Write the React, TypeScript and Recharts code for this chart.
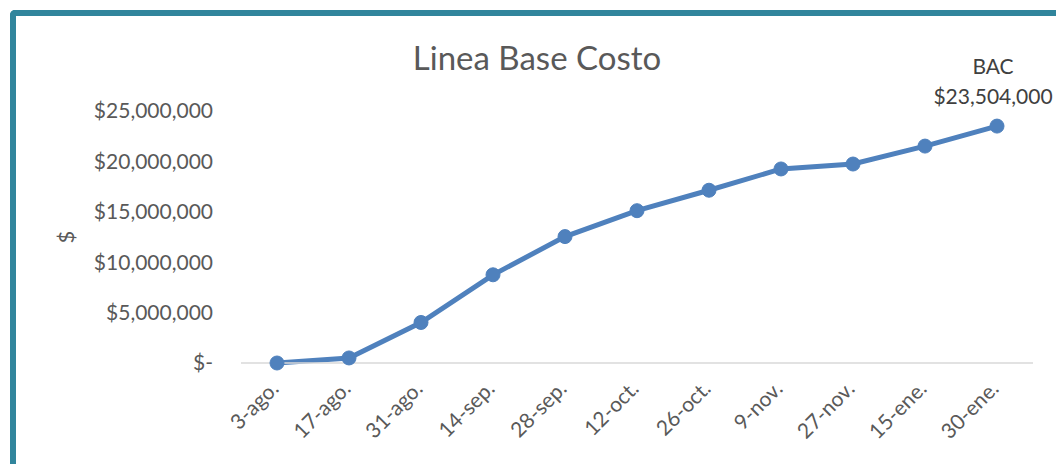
import React from 'react';
import { LineChart, Line, XAxis, YAxis } from 'recharts';

// fechas de corte y costo acumulado planeado
const fechas = ['3-ago.', '17-ago.', '31-ago.', '14-sep.', '28-sep.', '12-oct.', '26-oct.', '9-nov.', '27-nov.', '15-ene.', '30-ene.'];
const costoAcumulado = [0, 500000, 4020000, 8750000, 12540000, 15110000, 17140000, 19250000, 19740000, 21520000, 23504000];
const yTicks = [0, 5000000, 10000000, 15000000, 20000000, 25000000];

const data = fechas.map((f, i) => ({ fecha: f, costo: costoAcumulado[i] }));

const FONT = 'Lato, "Noto Sans", sans-serif';
const GRAY = '#595959';
const BLUE = '#4F81BD';

const fmtMoney = (v: number) => (v === 0 ? '$-' : '$' + v.toLocaleString('en-US'));

const DateTick = ({ x, y, payload }: any) => (
  <text
    x={x + 3}
    y={y + 19}
    transform={`rotate(-45, ${x + 3}, ${y + 19})`}
    textAnchor="end"
    fill={GRAY}
    fontSize={21}
    fontFamily={FONT}
  >
    {payload.value}
  </text>
);

// etiqueta BAC solo en el ultimo punto
const BacLabel = ({ x, y, index, value }: any) => {
  if (index !== fechas.length - 1) return null;
  return (
    <g fill="#404040" fontSize={21} fontFamily={FONT} textAnchor="middle">
      <text x={x - 4} y={y - 52}>BAC</text>
      <text x={x - 4} y={y - 22}>{fmtMoney(value)}</text>
    </g>
  );
};

export default function App() {
  return (
    <div style={{ position: 'absolute', left: 0, top: 0, width: 1056, height: 464, overflow: 'hidden', background: '#fff' }}>
      <div
        style={{
          position: 'absolute',
          left: 10,
          top: 10,
          width: 1200,
          height: 600,
          borderTop: '6px solid #31859C',
          borderLeft: '6px solid #31859C',
          borderTopLeftRadius: 5,
        }}
      />
      <div
        style={{
          position: 'absolute',
          left: 0,
          top: 37,
          width: 1074,
          textAlign: 'center',
          fontFamily: FONT,
          fontSize: 33,
          lineHeight: '40px',
          color: GRAY,
        }}
      >
        Linea Base Costo
      </div>
      <div style={{ position: 'absolute', left: 0, top: 0 }}>
        <LineChart width={1056} height={464} data={data} margin={{ top: 111, right: 23, left: 0, bottom: 0 }}>
          <XAxis
            dataKey="fecha"
            height={101}
            padding={{ left: 36, right: 36 }}
            axisLine={{ stroke: '#D9D9D9', strokeWidth: 1.5 }}
            tickLine={false}
            tick={<DateTick />}
            interval={0}
          />
          <YAxis
            width={241}
            domain={[0, 25000000]}
            ticks={yTicks}
            axisLine={false}
            tickLine={false}
            tickSize={0}
            tickMargin={28}
            tickFormatter={fmtMoney}
            tick={{ fill: GRAY, fontSize: 21, fontFamily: FONT }}
            label={{
              content: (p: any) => (
                <text
                  x={65}
                  y={p.viewBox.y + p.viewBox.height / 2}
                  transform={`rotate(-90, 65, ${p.viewBox.y + p.viewBox.height / 2})`}
                  textAnchor="middle"
                  dominantBaseline="central"
                  fill={GRAY}
                  fontSize={22}
                  fontFamily={FONT}
                >
                  $
                </text>
              ),
            }}
          />
          <Line
            type="linear"
            dataKey="costo"
            stroke={BLUE}
            strokeWidth={5}
            dot={{ r: 7, fill: BLUE, stroke: BLUE, strokeWidth: 1 }}
            activeDot={false}
            isAnimationActive={false}
            label={<BacLabel />}
          />
        </LineChart>
      </div>
    </div>
  );
}
